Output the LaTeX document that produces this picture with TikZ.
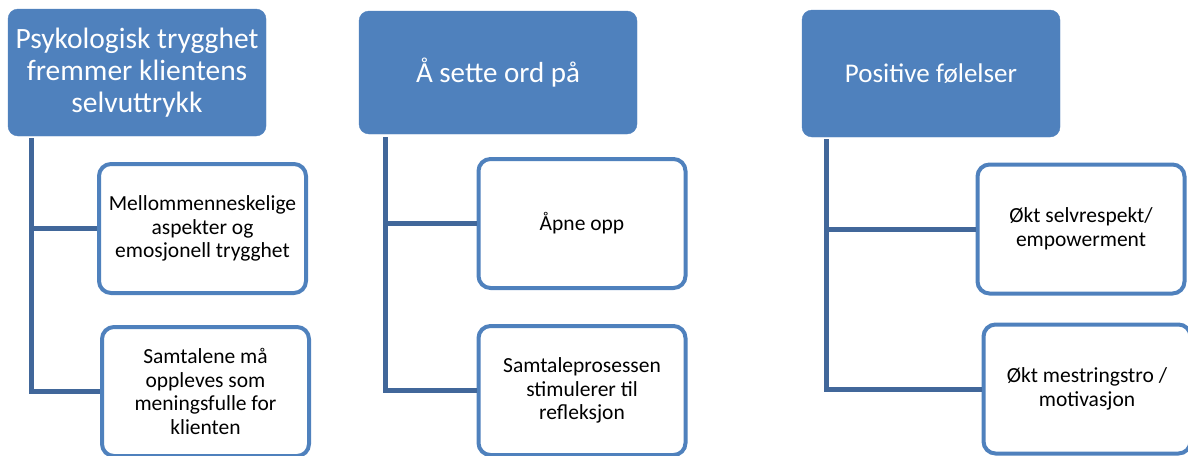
\documentclass[tikz,border=0pt]{standalone}
\usepackage{fontspec}
\setmainfont{Carlito}
\usetikzlibrary{positioning}
\definecolor{headblue}{HTML}{4F81BD}
\definecolor{linkblue}{HTML}{41679A}

\begin{document}
\begin{tikzpicture}[x=1pt,y=-1pt,
  head/.style={fill=headblue,draw=headblue,rounded corners=10pt,minimum width=258pt,minimum height=127pt,text=white,align=center,font=\fontsize{29.5}{32}\selectfont},
  leaf/.style={draw=headblue,line width=4pt,fill=white,rounded corners=12pt,minimum width=207pt,minimum height=129pt,align=center,font=\fontsize{21.5}{23.5}\selectfont},
  link/.style={draw=linkblue,line width=5pt}]
\useasboundingbox (0,0) rectangle (1188,455);
\clip (0,0) rectangle (1188,455);
% column 1
\node[head] (h1) at (137,72.5) {Psykologisk trygghet\\fremmer klientens\\selvuttrykk};
\node[leaf] (c11) at (202.5,228.5) {Mellommenneskelige\\aspekter og\\emosjonell trygghet};
\node[leaf] (c12) at (205.5,391.5) {Samtalene må\\oppleves som\\meningsfulle for\\klienten};
\coordinate (v1) at (31,138);
\draw[link] (v1) |- (c11.west);
\draw[link] (v1) |- (c12.west);
% column 2
\node[head,minimum width=278pt,minimum height=123pt,font=\fontsize{29}{32}\selectfont] (h2) at (498,72.5) {Å sette ord på};
\node[leaf] (c21) at (582,223.5) {Åpne opp};
\node[leaf] (c22) at (582,390.5) {Samtaleprosessen\\stimulerer til\\refleksjon};
\coordinate (v2) at (385,137);
\draw[link] (v2) |- (c21.west);
\draw[link] (v2) |- (c22.west);
% column 3
\node[head,font=\fontsize{27}{32}\selectfont] (h3) at (931,73.5) {Positive følelser};
\node[leaf] (c31) at (1081,229) {Økt selvrespekt/\\empowerment};
\node[leaf] (c32) at (1087,389) {Økt mestringstro /\\motivasjon};
\coordinate (v3) at (826,139);
\draw[link] (v3) |- (c31.west);
\draw[link] (v3) |- (c32.west);
\end{tikzpicture}
\end{document}
